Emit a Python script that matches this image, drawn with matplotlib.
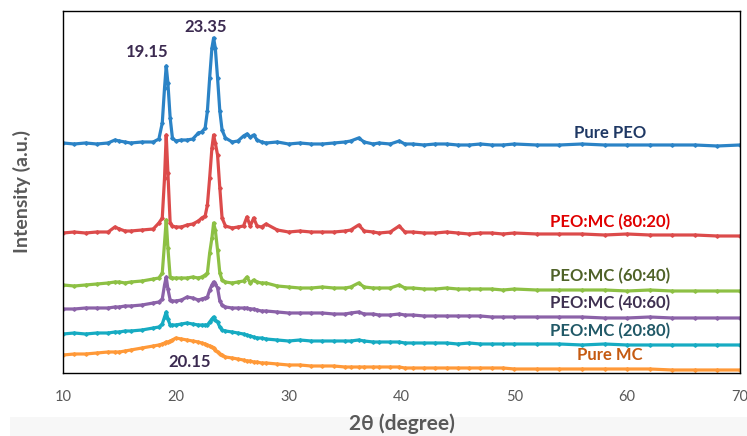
import numpy as np
import matplotlib.pyplot as plt
from matplotlib.patches import Rectangle

plt.rcParams['font.family'] = ['Lato', 'DejaVu Sans']

# shared 2-theta grid (denser around the PEO peaks)
two_theta = [10, 11, 12, 13, 14, 14.6, 15, 15.5, 16, 17,
             18, 18.5, 18.8, 19.0, 19.15, 19.3, 19.5, 19.7, 20, 20.5,
             21, 21.5, 22, 22.3, 22.6, 22.8, 23.0, 23.2, 23.35, 23.5,
             23.7, 23.9, 24.1, 24.4, 25, 25.5, 26.0, 26.3, 26.6, 26.9,
             27.2, 27.6, 28, 29, 30, 31, 32, 33, 34, 35,
             35.5, 36.2, 36.7, 37.5, 38, 39, 39.8, 40.3, 41, 42,
             43, 44, 45, 46, 47, 48, 49, 50, 52, 54,
             56, 58, 60, 62, 64, 66, 68, 70]

# intensities (a.u., stacked as in the figure)
pure_peo = [230, 229, 230, 229, 230, 233, 232, 231, 230, 231,
            231, 234, 250, 285, 307, 290, 255, 235, 232, 233,
            233, 234, 240, 241, 245, 262, 295, 325, 335, 325,
            295, 262, 243, 235, 231, 232, 237, 239, 236, 238,
            233, 231, 230, 231, 229, 230, 229, 229, 230, 231,
            232, 235, 231, 229, 230, 229, 232, 229, 229, 228,
            229, 229, 228, 228, 229, 228, 228, 229, 228, 228,
            229, 228, 228, 228, 228, 228, 227, 228]
peo_mc_80_20 = [140, 141, 140, 141, 141, 146, 144, 142, 142, 143,
                144, 150, 155, 195, 238, 200, 150, 147, 146, 146,
                148, 149, 152, 155, 157, 168, 195, 225, 238, 230,
                218, 185, 155, 147, 145, 146, 147, 156, 147, 155,
                147, 146, 149, 143, 141, 142, 141, 141, 141, 142,
                143, 148, 142, 141, 140, 141, 147, 141, 141, 140,
                140, 141, 140, 139, 140, 140, 139, 140, 139, 139,
                139, 138, 139, 138, 138, 138, 137, 137]
peo_mc_60_40 = [88, 87, 88, 89, 90, 91, 91, 90, 91, 92,
                94, 95, 100, 130, 153, 125, 96, 95, 95, 95,
                95, 96, 95, 96, 98, 100, 120, 135, 150, 143,
                123, 100, 93, 91, 90, 91, 92, 96, 90, 93,
                91, 90, 90, 87, 86, 85, 85, 86, 85, 85,
                86, 90, 86, 85, 85, 85, 88, 85, 85, 84,
                84, 85, 84, 84, 84, 84, 83, 84, 83, 83,
                83, 83, 82, 83, 82, 82, 82, 82]
peo_mc_40_60 = [64, 64, 65, 65, 65, 66, 66, 67, 67, 68,
                70, 71, 74, 88, 96, 84, 73, 72, 72, 73,
                76, 75, 73, 74, 75, 76, 83, 88, 91, 89,
                85, 72, 68, 66, 65, 65, 65, 65, 64, 64,
                63, 62, 62, 61, 60, 60, 60, 60, 59, 59,
                60, 61, 59, 59, 58, 58, 59, 58, 58, 57,
                57, 57, 57, 57, 57, 56, 56, 56, 56, 56,
                56, 55, 55, 56, 55, 55, 55, 55]
peo_mc_20_80 = [39, 40, 39, 40, 40, 41, 41, 42, 42, 43,
                45, 46, 49, 56, 61, 54, 48, 48, 48, 49,
                50, 49, 48, 48, 48, 48, 51, 54, 56, 53,
                51, 46, 43, 42, 41, 40, 39, 38, 37, 36,
                35, 35, 34, 33, 32, 33, 32, 32, 32, 32,
                32, 33, 32, 31, 31, 31, 31, 30, 30, 30,
                30, 30, 29, 30, 29, 29, 29, 29, 29, 29,
                28, 29, 28, 28, 28, 28, 28, 28]
pure_mc = [18, 19, 19, 20, 21, 21, 21, 22, 23, 25,
           27, 28, 29, 30, 31, 31, 32, 33, 35, 34,
           33, 32, 31, 30, 29, 28, 27, 26, 25, 23,
           21, 19, 18, 16, 15, 14, 13, 12, 12, 11,
           11, 10, 10, 9, 8, 8, 7, 7, 7, 6,
           6, 6, 6, 6, 6, 6, 6, 5, 5, 5,
           5, 5, 5, 5, 5, 5, 5, 4, 4, 4,
           4, 4, 4, 4, 3, 3, 3, 3]

series = [pure_peo, peo_mc_80_20, peo_mc_60_40, peo_mc_40_60, peo_mc_20_80, pure_mc]
line_colors = ['#2B83C6', '#DC4B4B', '#8DC044', '#8B62A8', '#16ABC2', '#FF9938']
names = ['Pure PEO', 'PEO:MC (80:20)', 'PEO:MC (60:40)', 'PEO:MC (40:60)', 'PEO:MC (20:80)', 'Pure MC']
name_colors = ['#1F3864', '#E00000', '#4F6228', '#3F3151', '#215967', '#C55A11']
name_y = [240, 151, 97, 70, 42, 18]

peak_labels = ['19.15', '23.35', '20.15']
peak_xy = [(17.45, 321), (22.6, 346), (21.26, 11)]

fig = plt.figure(figsize=(7.47, 4.36), dpi=100)
ax = fig.add_axes([0.0843, 0.1445, 0.9063, 0.8303])

fig.patches.append(Rectangle((0.013, 0), 0.987, 0.044, transform=fig.transFigure,
                             facecolor='#F7F7F7', edgecolor='none', zorder=0))

for y, c in zip(series, line_colors):
    ax.plot(two_theta, y, color=c, lw=2.3, marker='D', ms=1.8, mec=c, mfc=c)

for name, c, yy in zip(names, name_colors, name_y):
    ax.text(58.5, yy, name, color=c, fontsize=12, fontweight='bold',
            ha='center', va='center')

for lab, (px, py) in zip(peak_labels, peak_xy):
    ax.text(px, py, lab, color='#3B2A50', fontsize=12, fontweight='bold',
            ha='center', va='center')

ax.set_xlim(10, 70)
ax.set_ylim(0, 362)
ax.set_xticks(np.arange(10, 71, 10))
ax.set_yticks([])
ax.tick_params(axis='x', length=0, pad=12, labelsize=10.5, labelcolor='#595959')
for s in ax.spines.values():
    s.set_color('black')
    s.set_linewidth(1)

fig.text(402 / 747, 1 - 424 / 436, '2θ (degree)', fontsize=15,
         fontweight='bold', color='#595959', ha='center', va='center')
ax.set_ylabel('Intensity (a.u.)', fontsize=14, fontweight='bold', color='#595959')
ax.yaxis.set_label_coords(-0.047, 0.5)

fig.savefig('out.png', dpi=100)
